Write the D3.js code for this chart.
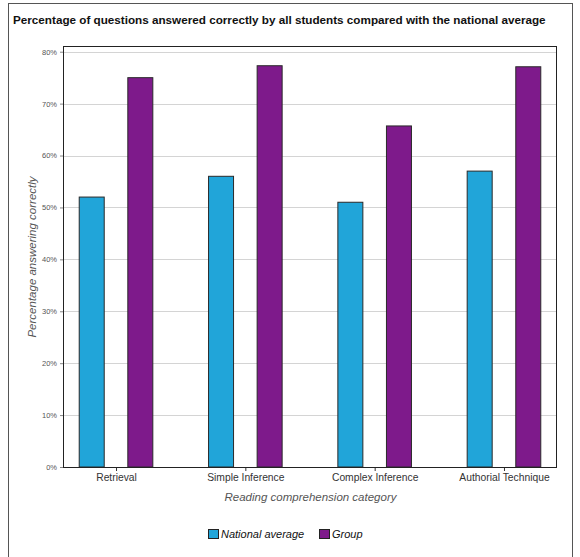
<!DOCTYPE html>
<html><head><meta charset="utf-8">
<script src="https://cdn.jsdelivr.net/npm/d3@7"></script>
<style>body{margin:0;background:#fff;}svg{display:block;font-family:"Liberation Sans",Arial,sans-serif;}</style>
</head><body>
<svg id="c" width="580" height="557"></svg>
<script>
const categories = ["Retrieval", "Simple Inference", "Complex Inference", "Authorial Technique"];
const seriesNames = ["National average", "Group"];
const nationalAverage = [52, 56, 51, 57];
const groupValues = [75, 77.3, 65.7, 77.1];
const yTicks = [0, 10, 20, 30, 40, 50, 60, 70, 80];
const colors = ["#21a5d9", "#7e1a8b"];

const svg = d3.select("#c");
const L = 63, R = 557, T = 46, B = 467;

// outer frame
svg.append("rect").attr("x", 8.5).attr("y", 3.5).attr("width", 564).attr("height", 570)
  .attr("fill", "none").attr("stroke", "#555").attr("stroke-width", 1);

svg.append("text").attr("x", 13).attr("y", 24).attr("font-size", 11.7).attr("font-weight", "bold")
  .attr("fill", "#111").text("Percentage of questions answered correctly by all students compared with the national average");

const y = d3.scaleLinear().domain([0, 81.1]).range([B, T]);
const x = d3.scalePoint().domain(categories).range([L, R]).padding(0.41);

// gridlines
svg.append("g").selectAll("line").data(yTicks.filter(d => d > 0)).join("line")
  .attr("x1", L).attr("x2", R).attr("y1", d => Math.round(y(d)) + 0.5).attr("y2", d => Math.round(y(d)) + 0.5)
  .attr("stroke", "#d4d4d4").attr("stroke-width", 1);

// y axis
const yAxis = svg.append("g").attr("transform", `translate(${L},0)`)
  .call(d3.axisLeft(y).tickValues(yTicks).tickFormat(d => d + "%").tickSize(3).tickPadding(3));
yAxis.select(".domain").remove();
yAxis.selectAll("line").attr("stroke", "#888");
yAxis.selectAll("text").attr("font-size", 7.5).attr("fill", "#555").attr("font-family", "Liberation Sans, Arial, sans-serif");

// bars
const bw = 25, off = 24.3;
const data = [];
categories.forEach((c, i) => {
  data.push({c, s: 0, v: nationalAverage[i]});
  data.push({c, s: 1, v: groupValues[i]});
});
svg.append("g").selectAll("rect").data(data).join("rect")
  .attr("x", d => x(d.c) + (d.s === 0 ? -off : off) - bw / 2)
  .attr("y", d => y(d.v))
  .attr("width", bw)
  .attr("height", d => B - y(d.v))
  .attr("fill", d => colors[d.s])
  .attr("stroke", "#2a2a2a").attr("stroke-width", 1);

// x axis
const xAxis = svg.append("g").attr("transform", `translate(0,${B})`)
  .call(d3.axisBottom(x).tickSize(4).tickPadding(3));
xAxis.select(".domain").remove();
xAxis.selectAll("line").attr("stroke", "#333");
xAxis.selectAll("text").attr("font-size", 10.3).attr("fill", "#333").attr("font-family", "Liberation Sans, Arial, sans-serif");

// plot frame
svg.append("rect").attr("x", L + 0.5).attr("y", T + 0.5).attr("width", R - L - 1).attr("height", B - T)
  .attr("fill", "none").attr("stroke", "#222").attr("stroke-width", 1);

// axis titles
svg.append("text").attr("transform", `translate(36,257) rotate(-90)`)
  .attr("text-anchor", "middle").attr("font-size", 11.5).attr("font-style", "italic").attr("fill", "#555")
  .text("Percentage answering correctly");
svg.append("text").attr("x", 310.5).attr("y", 501).attr("text-anchor", "middle")
  .attr("font-size", 11.5).attr("font-style", "italic").attr("fill", "#555")
  .text("Reading comprehension category");

// legend
const leg = [{n: seriesNames[0], c: colors[0], x: 208}, {n: seriesNames[1], c: colors[1], x: 319}];
const lg = svg.append("g");
leg.forEach(d => {
  lg.append("rect").attr("x", d.x + 0.5).attr("y", 529.5).attr("width", 10).attr("height", 9)
    .attr("fill", d.c).attr("stroke", "#222");
  lg.append("text").attr("x", d.x + 13).attr("y", 538).attr("font-size", 11).attr("font-style", "italic")
    .attr("fill", "#111").text(d.n);
});
</script>
</body></html>
